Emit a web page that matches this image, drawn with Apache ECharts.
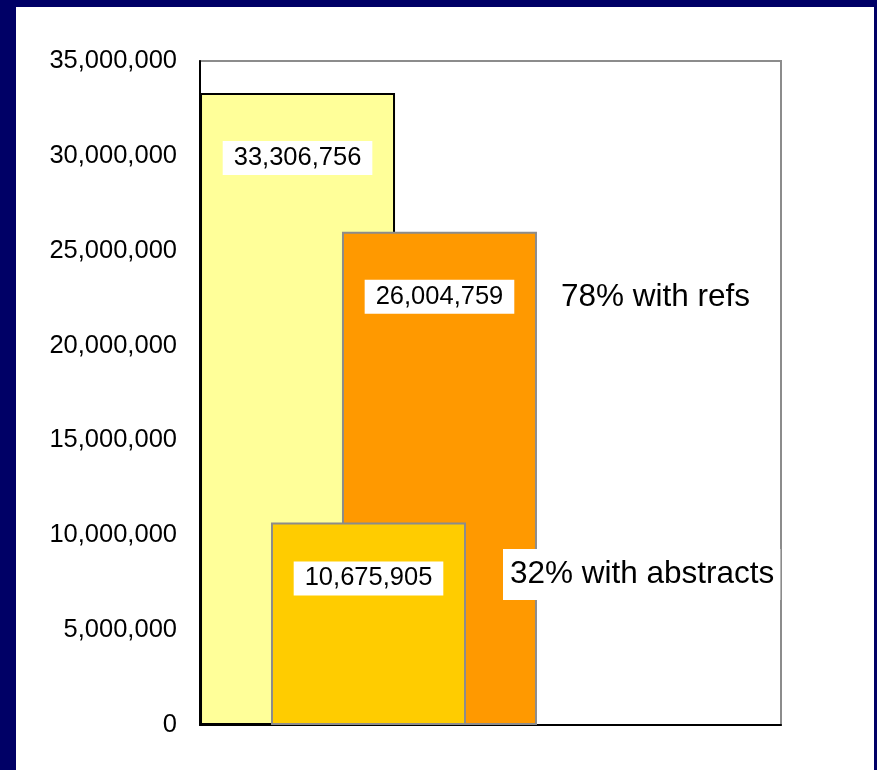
<!DOCTYPE html>
<html>
<head>
<meta charset="utf-8">
<script src="https://cdn.jsdelivr.net/npm/echarts@6/dist/echarts.min.js"></script>
<style>
  html, body { margin: 0; padding: 0; background: #000066; }
  #bg { position: absolute; left: 16px; top: 7px; width: 858px; height: 763px; background: #ffffff; }
  #chart { position: absolute; left: 0; top: 0; width: 877px; height: 770px; }
</style>
</head>
<body>
<div id="bg"></div>
<div id="chart"></div>
<script>
// Data
const categories = ['Records'];
const seriesNames = ['All records', 'With abstracts', 'With refs'];
const totalRecords = [33306756];
const withAbstracts = [10675905];
const withRefs = [26004759];
const yTicks = { min: 0, max: 35000000, interval: 5000000 };
const annotations = ['78% with refs', '32% with abstracts'];

const fontFamily = 'Liberation Sans';
const fmt = v => v.toString().replace(/\B(?=(\d{3})+(?!\d))/g, ',');

function labelCfg(offsetY) {
  return {
    show: true,
    position: ['50%', offsetY],
    align: 'center',
    verticalAlign: 'middle',
    formatter: p => fmt(p.value),
    color: '#000',
    fontFamily: fontFamily,
    fontSize: 25.5,
    lineHeight: 25,
    backgroundColor: '#fff',
    padding: [5, 11, 4, 11]
  };
}

const chart = echarts.init(document.getElementById('chart'), null, { renderer: 'canvas' });
chart.setOption({
  backgroundColor: 'transparent',
  animation: false,
  grid: [
    { left: 200, right: 96, top: 61, bottom: 45, show: true, borderColor: '#8c8c8c', borderWidth: 2, backgroundColor: 'transparent' },
    { left: 200, width: 337, top: 61, bottom: 45 }
  ],
  xAxis: [
    { type: 'category', gridIndex: 0, data: categories, axisLine: { show: true, lineStyle: { color: '#000', width: 2 } }, axisTick: { show: false }, axisLabel: { show: false } },
    { type: 'category', gridIndex: 1, data: categories, show: false }
  ],
  yAxis: [
    { type: 'value', gridIndex: 0, min: yTicks.min, max: yTicks.max, interval: yTicks.interval,
      axisLine: { show: true, lineStyle: { color: '#000', width: 2 } }, axisTick: { show: false },
      splitLine: { show: false },
      axisLabel: { margin: 23, color: '#000', fontFamily: fontFamily, fontSize: 25.5, formatter: v => fmt(v) } },
    { type: 'value', gridIndex: 1, min: yTicks.min, max: yTicks.max, interval: yTicks.interval, show: false }
  ],
  series: [
    { name: seriesNames[0], type: 'bar', xAxisIndex: 1, yAxisIndex: 1, data: totalRecords, z: 2,
      barWidth: 195, barGap: '-63.6%',
      itemStyle: { color: '#ffff99', borderColor: '#000', borderWidth: 2 },
      label: labelCfg(65) },
    { name: seriesNames[1], type: 'bar', xAxisIndex: 1, yAxisIndex: 1, data: withAbstracts, z: 4,
      barWidth: 195, barGap: '-63.6%',
      itemStyle: { color: '#ffcc00', borderColor: '#8c8c8c', borderWidth: 2 },
      label: labelCfg(56) },
    { name: seriesNames[2], type: 'bar', xAxisIndex: 1, yAxisIndex: 1, data: withRefs, z: 3,
      barWidth: 195, barGap: '-63.6%',
      itemStyle: { color: '#ff9900', borderColor: '#8c8c8c', borderWidth: 2 },
      label: labelCfg(65) }
  ],
  graphic: [
    { type: 'text', left: 561, top: 281, z: 100,
      style: { text: annotations[0], fontFamily: fontFamily, fontSize: 31.5, fill: '#000' } },
    { type: 'text', left: 503, top: 549, z: 100,
      style: { text: annotations[1], fontFamily: fontFamily, fontSize: 31.5, lineHeight: 31, fill: '#000',
        backgroundColor: '#fff', padding: [10, 6, 10, 7] } }
  ]
});
</script>
</body>
</html>
